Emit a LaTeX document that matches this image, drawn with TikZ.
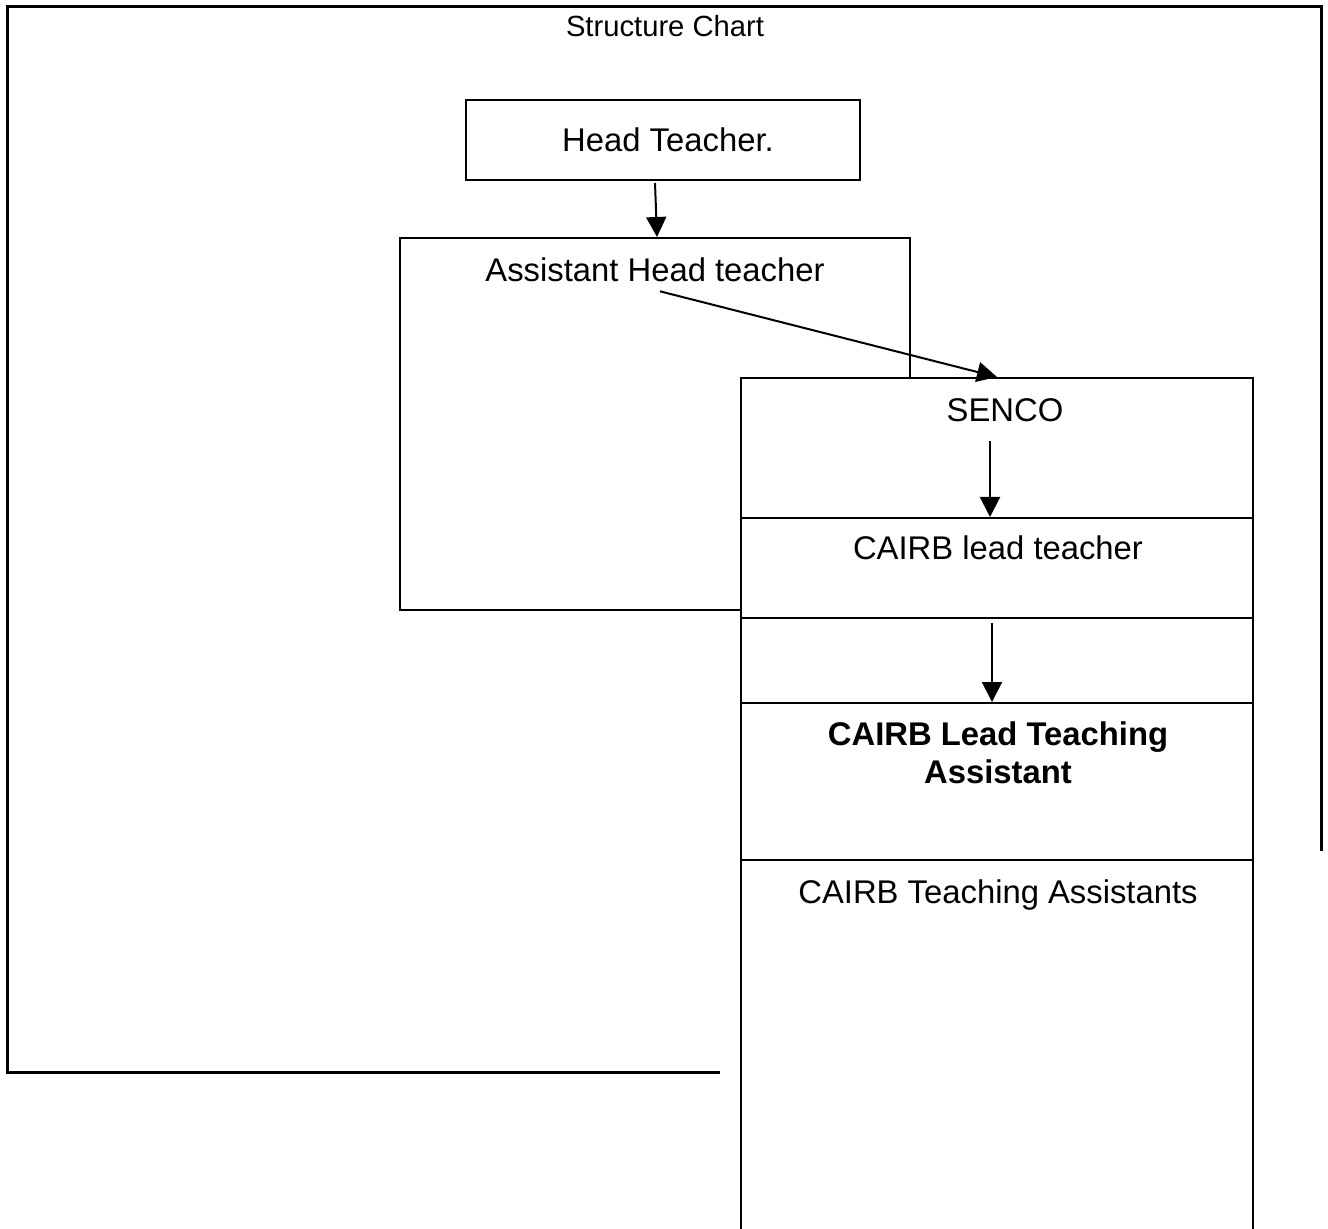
\documentclass[tikz,border=0pt]{standalone}
\usepackage{fontspec}
\setmainfont{Liberation Sans}
\usetikzlibrary{arrows.meta}

\tikzset{
  box/.style={draw, line width=1pt, fill=white, inner sep=0pt},
  lbl/.style={inner sep=0pt, anchor=base, font=\fontsize{16.4}{19}\selectfont, align=center},
}

\begin{document}
\begin{tikzpicture}[x=0.5pt, y=-0.5pt, >={Triangle[length=10pt,width=10pt]}, line width=1pt]
\useasboundingbox (0,0) rectangle (1328,1229);

% open frame round the chart
\draw[line width=1.5pt] (720,1072) -- (7,1072) -- (7,7) -- (1321,7) -- (1321,851);
\node[lbl, font=\fontsize{14.6}{17}\selectfont] (title) at (665,37) {Structure Chart};

% boxes
\node[box, minimum width=197pt, minimum height=40pt] (head) at (663,140) {};
\node[box, minimum width=255pt, minimum height=186pt] (asst) at (655,424) {};
\node[box, minimum width=256pt, minimum height=70pt] (senco) at (997,448) {};
\node[box, minimum width=256pt, minimum height=50pt] (lead) at (997,568) {};
\node[box, minimum width=256pt, minimum height=42.5pt] (gap) at (997,660.5) {};
\node[box, minimum width=256pt, minimum height=78.5pt] (lta) at (997,781.5) {};
\node[box, minimum width=256pt, minimum height=190pt] (tas) at (997,1050) {};

% texts
\node[lbl] (headlbl) at (668,152) {Head Teacher.};
\node[lbl] (asstlbl) at (655,282) {Assistant Head teacher};
\node[lbl] (sencolbl) at (1005,422) {SENCO};
\node[lbl] (leadlbl) at (998,560) {CAIRB lead teacher};
\node[lbl, font=\fontsize{16.4}{19}\bfseries] (ltalbl) at (998,783) {CAIRB Lead Teaching\\Assistant};
\node[lbl] (taslbl) at (998,903) {CAIRB Teaching Assistants};

% arrows
\draw[->] ([xshift=-4pt,yshift=-1pt]head.south) -- ([xshift=1pt]asst.north);
\draw[->] ([xshift=2.5pt,yshift=-4pt]asstlbl.south) -- (senco.north);
\draw[->] ([xshift=-3.5pt,yshift=39pt]senco.south) -- ([xshift=-3.5pt]lead.north);
\draw[->] ([xshift=-2.5pt,yshift=-2pt]lead.south) -- ([xshift=-2.5pt]lta.north);
\end{tikzpicture}
\end{document}
